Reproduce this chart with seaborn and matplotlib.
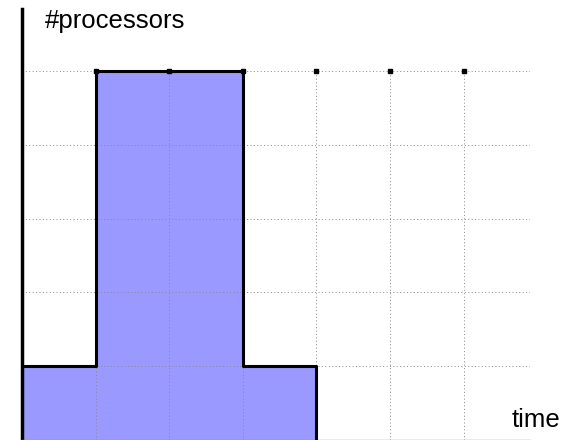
import matplotlib
matplotlib.use('Agg')
import matplotlib.pyplot as plt
import seaborn as sns
import pandas as pd
import numpy as np

# Datos del perfil de procesadores
times = [0, 1, 3, 4]
processors = [1, 5, 1, 0]
grid_x = [1, 2, 3, 4, 5, 6]
grid_y = [1, 2, 3, 4, 5]
x_label = 'time'
y_label = '#processors'

df = pd.DataFrame({'time': times, 'procs': processors})

sns.set_style('white')
plt.rcParams['font.family'] = ['Liberation Sans', 'DejaVu Sans']

fig = plt.figure(figsize=(5.68, 4.4), dpi=100)
ax = fig.add_axes([22 / 568, 0.0, (530 - 22) / 568, 431 / 440])
ax.set_xlim(0, 6.9)
ax.set_ylim(0, 5.84)

# Area rellena y contorno escalonado
ax.fill_between(df['time'], df['procs'], step='post', color='#9999ff', linewidth=0, zorder=1)

# Rejilla punteada (solo hasta la linea superior)
gstyle = dict(linestyles=[(0, (1, 2.5))], colors='#888888', linewidths=0.7, zorder=2)
ax.vlines(grid_x, 0, max(grid_y), **gstyle)
ax.hlines(grid_y, 0, 6.9, **gstyle)

sns.lineplot(data=df, x='time', y='procs', drawstyle='steps-post', color='black',
             linewidth=2.2, ax=ax, zorder=3)
# pequenas marcas en la linea superior
ax.plot(grid_x, [max(grid_y)] * len(grid_x), 's', color='black', markersize=2.5, zorder=4)

ax.set_xticks([])
ax.set_yticks([])
for s in ['top', 'right']:
    ax.spines[s].set_visible(False)
ax.spines['left'].set_color('black')
ax.spines['left'].set_linewidth(2.5)
ax.spines['bottom'].set_color('#999999')
ax.spines['bottom'].set_linewidth(1.0)

ax.set_xlabel('')
ax.set_ylabel('')
fig.text(45 / 568, 1 - 21 / 440, y_label, fontsize=18.5, color='black', va='center', ha='left')
fig.text(512 / 568, 1 - 420 / 440, x_label, fontsize=18.5, color='black', va='center', ha='left')

fig.savefig('out.png', dpi=100)
